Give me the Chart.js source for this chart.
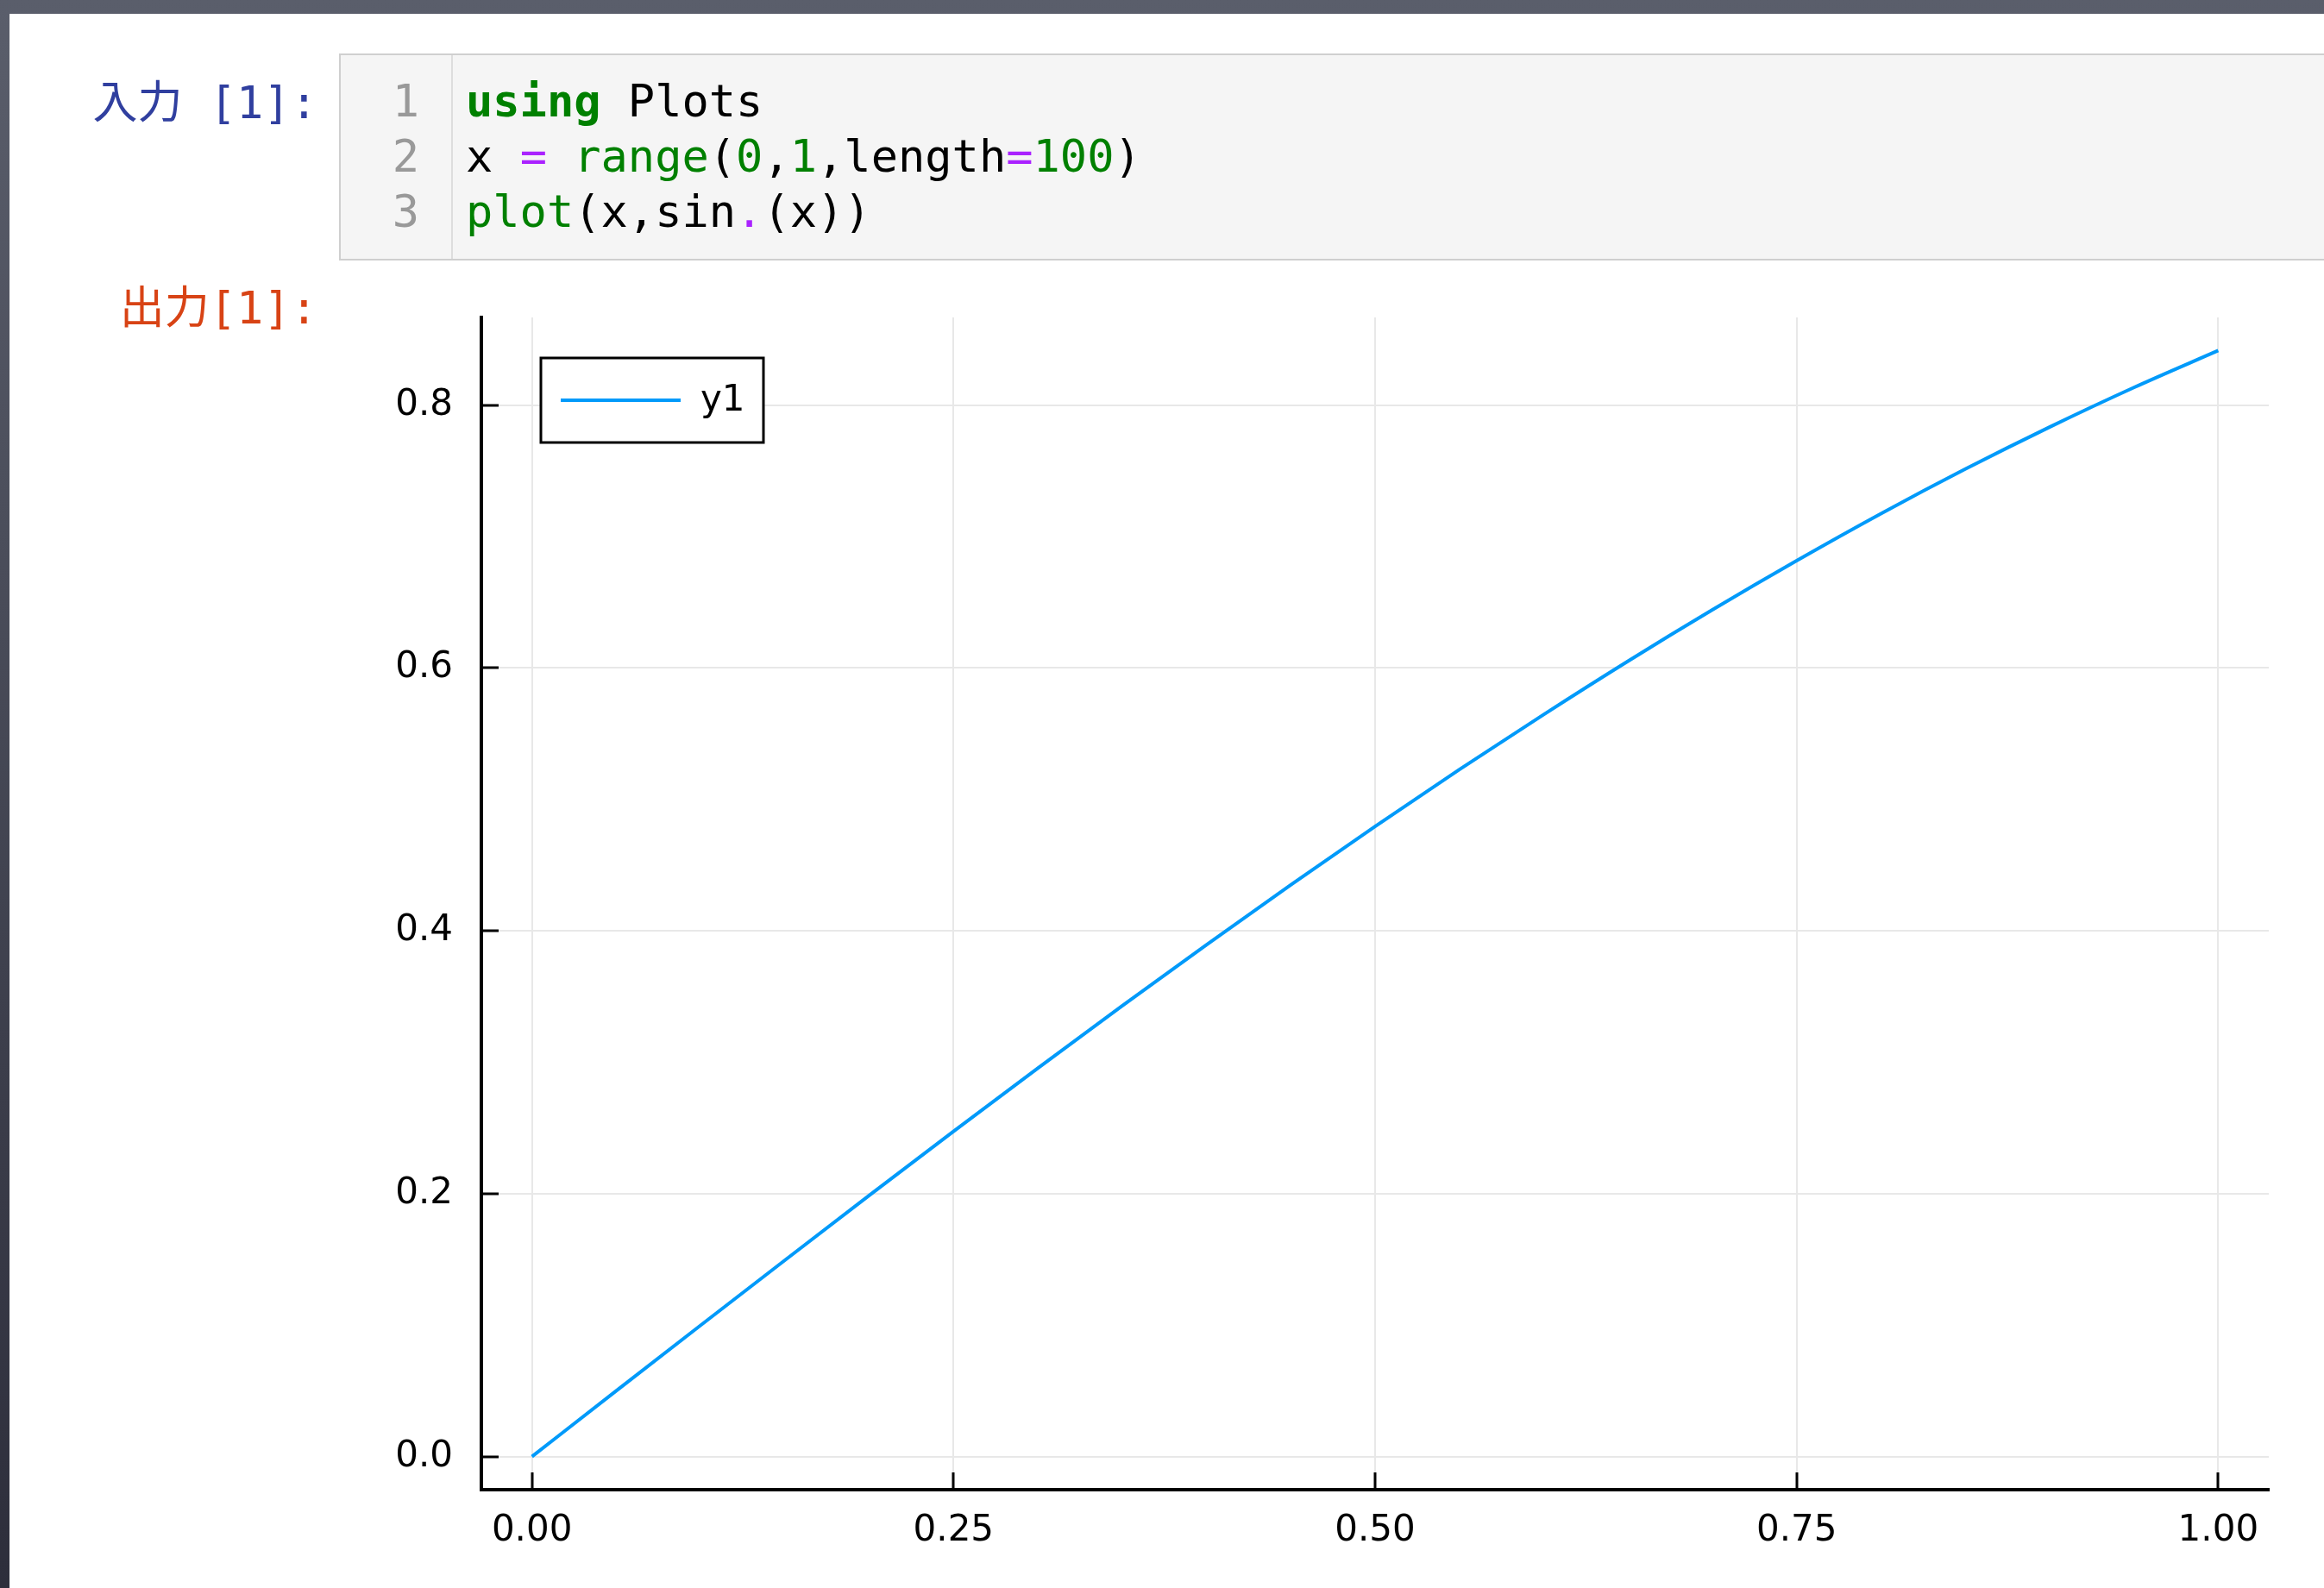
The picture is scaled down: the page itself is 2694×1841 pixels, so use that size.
<!DOCTYPE html>
<html>
<head>
<meta charset="utf-8">
<script src="https://cdn.jsdelivr.net/npm/chart.js@4.4.0/dist/chart.umd.min.js"></script>
<style>
  html, body { margin: 0; padding: 0; }
  body {
    width: 2694px; height: 1841px; overflow: hidden; position: relative;
    background: linear-gradient(#5a5e6b, #2d2e3b);
  }
  #page { position: absolute; left: 11px; top: 16px; right: 0; bottom: 0; background: #fff; }
  .mono { font-family: "DejaVu Sans Mono", "Noto Sans CJK JP", monospace; font-size: 52px; line-height: 64px; white-space: pre; }
  .prompt { position: absolute; text-align: right; }
  #inPrompt { right: calc(2694px - 368px); top: 87px; color: #303F9F; }
  #outPrompt { right: calc(2694px - 368px); top: 325px; color: #D84315; }
  #cell {
    position: absolute; left: 393px; top: 62px; width: 2400px; height: 236px;
    background: #f5f5f5; border: 2px solid #cfcfcf;
  }
  #gutter {
    position: absolute; left: 0; top: 0; width: 128px; height: 236px;
    border-right: 2px solid #dddddd;
  }
  #lineNos { position: absolute; right: 37px; top: 21px; color: #999; text-align: right; }
  #code { position: absolute; left: 145px; top: 21px; color: #000; }
  .kw { color: #008000; font-weight: bold; }
  .bi { color: #008000; }
  .nm { color: #008000; }
  .op { color: #AA22FF; }
  #plot { position: absolute; left: 400px; top: 330px; }
</style>
</head>
<body>
<div id="page"></div>
<div id="inPrompt" class="mono prompt">入力 [1]:</div>
<div id="cell">
  <div id="gutter"><div id="lineNos" class="mono">1
2
3</div></div>
  <div id="code" class="mono"><span class="kw">using</span> Plots
x <span class="op">=</span> <span class="bi">range</span>(<span class="nm">0</span>,<span class="nm">1</span>,length<span class="op">=</span><span class="nm">100</span>)
<span class="bi">plot</span>(x,sin<span class="op">.</span>(x))</div>
</div>
<div id="outPrompt" class="mono prompt">出力[1]:</div>
<canvas id="plot" width="2294" height="1511"></canvas>
<script>
"use strict"

// series
const seriesName = 'y1';
const xValues = [0, 0.05, 0.10, 0.15, 0.20, 0.25, 0.30, 0.35, 0.40, 0.45, 0.50,
                 0.55, 0.60, 0.65, 0.70, 0.75, 0.80, 0.85, 0.90, 0.95, 1.00];
const yValues = [0, 0.050, 0.0998, 0.1494, 0.1987, 0.2474, 0.2955, 0.3429, 0.3894, 0.4350, 0.4794,
                 0.5227, 0.5646, 0.6052, 0.6442, 0.6816, 0.7174, 0.7513, 0.7833, 0.8134, 0.8415];

// axis ticks
const xTicks = [0, 0.25, 0.5, 0.75, 1.0];
const yTicks = [0, 0.2, 0.4, 0.6, 0.8];

const lineColor = '#009AFA';
const tickFont = { family: 'DejaVu Sans', size: 42 };

Chart.defaults.font.family = 'DejaVu Sans';

// inward ticks like GR draws them
const innerTicks = {
    id: 'innerTicks',
    afterDatasetsDraw(chart) {
        const ctx = chart.ctx;
        const area = chart.chartArea;
        const xs = chart.scales.x;
        const ys = chart.scales.y;
        ctx.save();
        ctx.strokeStyle = '#000';
        ctx.lineWidth = 3;
        ctx.beginPath();
        xTicks.forEach(function (v) {
            const px = Math.round(xs.getPixelForValue(v));
            ctx.moveTo(px, area.bottom);
            ctx.lineTo(px, area.bottom - 20);
        });
        yTicks.forEach(function (v) {
            const py = Math.round(ys.getPixelForValue(v));
            ctx.moveTo(area.left, py);
            ctx.lineTo(area.left + 20, py);
        });
        ctx.stroke();
        ctx.restore();
    }
};

// boxed legend in the top left corner of the plot area
const boxLegend = {
    id: 'boxLegend',
    afterDraw(chart) {
        const ctx = chart.ctx;
        const area = chart.chartArea;
        const left = area.left + 69;
        const top = area.top + 47;
        const w = 258, h = 98;
        ctx.save();
        ctx.fillStyle = '#fff';
        ctx.fillRect(left, top, w, h);
        ctx.strokeStyle = '#000';
        ctx.lineWidth = 3;
        ctx.strokeRect(left, top, w, h);

        const midY = top + h / 2;
        ctx.strokeStyle = lineColor;
        ctx.lineWidth = 4;
        ctx.beginPath();
        ctx.moveTo(left + 23, midY);
        ctx.lineTo(left + 162, midY);
        ctx.stroke();

        ctx.fillStyle = '#000';
        ctx.font = '42px "DejaVu Sans"';
        ctx.textBaseline = 'middle';
        ctx.textAlign = 'left';
        ctx.fillText(chart.data.datasets[0].label, left + 185, midY + 1);
        ctx.restore();
    }
};

const points = xValues.map(function (x, i) { return { x: x, y: yValues[i] }; });

const config = {
    type: 'line',
    data: {
        datasets: [{
            label: seriesName,
            data: points,
            borderColor: lineColor,
            backgroundColor: lineColor,
            borderWidth: 4,
            pointRadius: 0,
            cubicInterpolationMode: 'monotone',
            fill: false
        }]
    },
    options: {
        responsive: false,
        animation: false,
        devicePixelRatio: 1,
        layout: { padding: { left: 0, top: 38, right: 64, bottom: 0 } },
        plugins: {
            legend: { display: false },
            tooltip: { enabled: false },
            title: { display: false }
        },
        scales: {
            x: {
                type: 'linear',
                min: -0.03,
                max: 1.03,
                afterBuildTicks: function (s) { s.ticks = xTicks.map(function (v) { return { value: v }; }); },
                afterFit: function (s) { s.height = 114; s.paddingLeft = 0; s.paddingRight = 0; },
                ticks: {
                    font: tickFont,
                    color: '#000',
                    padding: 23,
                    maxRotation: 0,
                    autoSkip: false,
                    callback: function (v) { return Number(v).toFixed(2); }
                },
                grid: { color: '#e8e8e8', lineWidth: 2, drawTicks: false },
                border: { display: true, color: '#000', width: 4 }
            },
            y: {
                type: 'linear',
                min: -0.0252,
                max: 0.8667,
                afterBuildTicks: function (s) { s.ticks = yTicks.map(function (v) { return { value: v }; }); },
                afterFit: function (s) { s.width = 158; s.paddingTop = 0; s.paddingBottom = 0; },
                ticks: {
                    font: tickFont,
                    color: '#000',
                    padding: 33,
                    autoSkip: false,
                    callback: function (v) { return Number(v).toFixed(1); }
                },
                grid: { color: '#e8e8e8', lineWidth: 2, drawTicks: false },
                border: { display: true, color: '#000', width: 4 }
            }
        }
    },
    plugins: [innerTicks, boxLegend]
};

const myChart = new Chart(document.getElementById('plot'), config);
</script>
</body>
</html>
